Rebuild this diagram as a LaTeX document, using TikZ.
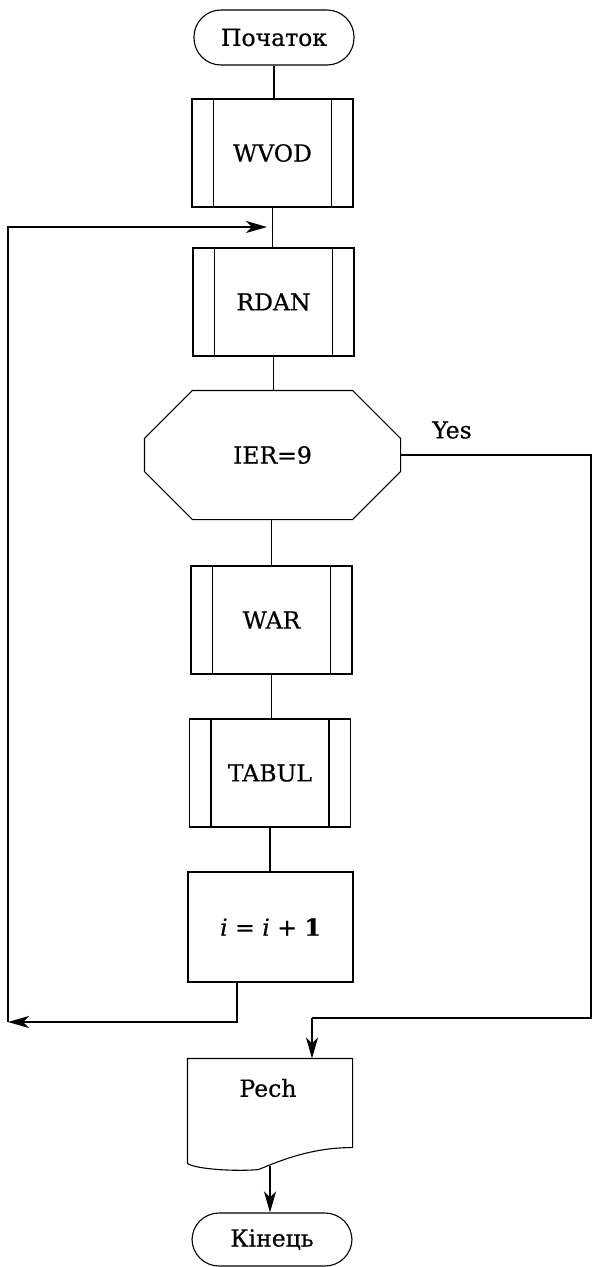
\documentclass[tikz,border=0pt]{standalone}
\usepackage{fontspec}
\setmainfont[FakeBold=0.6]{DejaVu Serif}
\usetikzlibrary{arrows.meta,shapes.misc}
\tikzset{
  base/.style={line width=1.1pt, font=\fontsize{23.5}{26}\selectfont},
  terminal/.style={base, draw, rectangle, rounded corners=27pt, minimum width=160pt, minimum height=55pt, inner sep=0pt},
  subproc/.style={base, draw, rectangle, minimum width=161pt, minimum height=108pt, inner sep=0pt,
    path picture={
      \draw[line width=1.1pt] ([xshift=21.5pt]path picture bounding box.north west) -- ([xshift=21.5pt]path picture bounding box.south west);
      \draw[line width=1.1pt] ([xshift=-21.5pt]path picture bounding box.north east) -- ([xshift=-21.5pt]path picture bounding box.south east);
    }},
  procbox/.style={base, draw, rectangle, minimum width=165pt, minimum height=110pt, inner sep=0pt},
  plainbox/.style={base, rectangle, inner sep=0pt},
  link/.style={line width=1.1pt},
  arrowlink/.style={line width=1.1pt, -{Stealth[length=21pt,width=12pt,inset=6pt]}},
}
\begin{document}
\begin{tikzpicture}[x=1pt,y=-1pt]
\useasboundingbox (0,0) rectangle (592,1267);

% blocks of the algorithm
\node (start) [terminal] at (274,37.5) {Початок};
\node (wvod)  [subproc]  at (272.5,153) {WVOD};
\node (rdan)  [subproc]  at (273.5,302) {RDAN};
\node (ier)   [plainbox, minimum width=255pt, minimum height=128pt] at (272.5,455) {IER=9};
\node (war)   [subproc]  at (271.5,620) {WAR};
\node (tabul) [subproc]  at (270,773) {TABUL};
\node (inc)   [procbox]  at (270.5,927) {\textit{i} = \textit{i} + \textbf{1}};
\node (pech)  [plainbox, minimum width=164pt, minimum height=104pt] at (270,1111) {};
\node (pechtext) [base] at (268,1088) {Pech};
\node (finish) [terminal, minimum height=53pt] at (272,1239.5) {Кінець};
\node (yes) [base] at (452,430) {Yes};

% octagonal decision outline
\draw[link] ([xshift=48pt]ier.north west) -- ([xshift=-48pt]ier.north east)
  -- ([yshift=-48pt]ier.north east) -- ([yshift=48pt]ier.south east)
  -- ([xshift=-48pt]ier.south east) -- ([xshift=48pt]ier.south west)
  -- ([yshift=48pt]ier.south west) -- ([yshift=-48pt]ier.north west) -- cycle;

% printed document outline with wavy lower edge
\draw[link] (pech.south west) -- (pech.north west) -- (pech.north east)
  -- ([yshift=16pt]pech.south east)
  .. controls ([xshift=-40pt,yshift=16pt]pech.south east) and ([xshift=-70pt,yshift=4pt]pech.south east) .. ([xshift=-94pt,yshift=-6pt]pech.south east)
  .. controls ([xshift=50pt,yshift=-8pt]pech.south west) and ([xshift=10pt,yshift=-6pt]pech.south west) .. (pech.south west);

% helper points of the routing
\coordinate (loopin) at (267,227);
\coordinate (loopcorner) at (8,1022);
\coordinate (incout) at (237,982);
\coordinate (yesright) at (591,455);
\coordinate (yesdown) at (591,1018);
\coordinate (pechin) at (312,1018);

% main flow
\draw[link] (start.south) -- (start.south |- wvod.north);
\draw[link] (wvod.south) -- (wvod.south |- rdan.north);
\draw[link] (rdan.south) -- (rdan.south |- ier.north);
\draw[link] (ier.south -| war.north) -- (war.north);
\draw[link] (war.south) -- (war.south |- tabul.north);
\draw[link] (tabul.south) -- (tabul.south |- inc.north);

% loop back to RDAN
\draw[arrowlink] (incout) |- (loopcorner);
\draw[arrowlink] (loopcorner) |- (loopin);

% exit on IER=9
\draw[link] (ier.east) -- (yesright) -- (yesdown) -- (pechin);
\draw[arrowlink] (pechin) -- (pechin |- pech.north);
\draw[arrowlink] ([yshift=-2pt]pech.south) -- (pech.south |- finish.north);
\end{tikzpicture}
\end{document}
